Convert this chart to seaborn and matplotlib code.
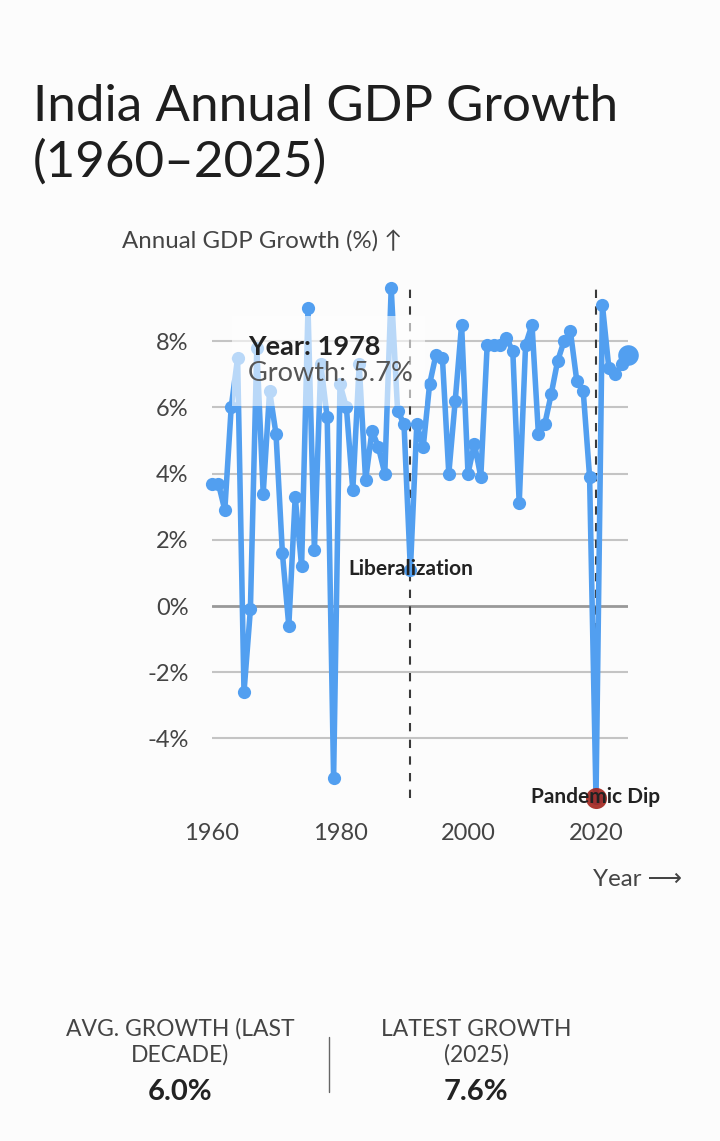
import seaborn as sns
import pandas as pd
from matplotlib import pyplot as plt
from matplotlib.lines import Line2D
from matplotlib.patches import Rectangle

# Data
years = list(range(1960, 2026))
growth = [3.7, 3.7, 2.9, 6.0, 7.5, -2.6, -0.1, 7.8, 3.4, 6.5,
          5.2, 1.6, -0.6, 3.3, 1.2, 9.0, 1.7, 7.3, 5.7, -5.2,
          6.7, 6.0, 3.5, 7.3, 3.8, 5.3, 4.8, 4.0, 9.6, 5.9,
          5.5, 1.1, 5.5, 4.8, 6.7, 7.6, 7.5, 4.0, 6.2, 8.5,
          4.0, 4.9, 3.9, 7.9, 7.9, 7.9, 8.1, 7.7, 3.1, 7.9,
          8.5, 5.2, 5.5, 6.4, 7.4, 8.0, 8.3, 6.8, 6.5, 3.9,
          -5.8, 9.1, 7.2, 7.0, 7.3, 7.6]
y_ticks = [-4, -2, 0, 2, 4, 6, 8]
x_ticks = [1960, 1980, 2000, 2020]
events = {1991: "Liberalization", 2020: "Pandemic Dip"}
tooltip_year = 1978
kpis = [("AVG. GROWTH (LAST\nDECADE)", "6.0%"), ("LATEST GROWTH\n(2025)", "7.6%")]

df = pd.DataFrame({'year': years, 'growth': growth})

sns.set_theme(style="white")
FONT = ['Lato', 'DejaVu Sans']
plt.rcParams['font.family'] = FONT

BG = '#fcfcfc'
BLUE = '#529ff0'
W, H = 720, 1141

fig = plt.figure(figsize=(W / 100, H / 100), dpi=100, facecolor=BG)
ax = fig.add_axes([212 / W, 1 - 798 / H, (628 - 212) / W, (798 - 285) / H])
ax.set_facecolor(BG)

# grid lines
for t in y_ticks:
    ax.axhline(t, color='#999999' if t == 0 else '#c4c4c4', lw=2 if t == 0 else 1.5, zorder=1)

# main line
sns.lineplot(data=df, x='year', y='growth', ax=ax, color=BLUE, lw=4,
             marker='o', markersize=9.5, markeredgewidth=0, zorder=3, clip_on=False)

# latest point a bit bigger
last = df.iloc[-1]
ax.scatter([last.year], [last.growth], s=220, color=BLUE, zorder=4, linewidths=0, clip_on=False)

# event lines
for yr, label in events.items():
    ax.axvline(yr, color='#3a3a3a', lw=1.5, ls=(0, (4, 4)), zorder=2)
g20 = df.loc[df.year == 2020, 'growth'].iloc[0]
ax.scatter([2020], [g20], s=230, color='#a4241c', alpha=0.9, zorder=6, linewidths=0, clip_on=False)
ax.text(1991, 1.12, events[1991], ha='center', va='center', fontsize=15,
        fontweight='bold', color='#222222', zorder=7)
ax.text(2020, -5.77, events[2020], ha='center', va='center', fontsize=15,
        fontweight='bold', color='#222222', zorder=7, clip_on=False)

# tooltip
ax.add_patch(Rectangle((1963.1, 6.04), 30.2, 2.72, facecolor='white', alpha=0.6,
                       edgecolor='none', zorder=5))
tv = df.loc[df.year == tooltip_year, 'growth'].iloc[0]
ax.text(1965.6, 7.82, f"Year: {tooltip_year}", fontsize=19.5, fontweight='bold',
        color='#222222', va='center', zorder=6)
ax.text(1965.6, 7.04, f"Growth: {tv}%", fontsize=19.5, color='#555555',
        va='center', zorder=6)

ax.set_xlim(1960, 2025)
ax.set_ylim(-5.8, 9.7)
ax.set_yticks(y_ticks)
ax.set_yticklabels([f"{t}%" for t in y_ticks])
ax.set_xticks(x_ticks)
ax.tick_params(axis='both', length=0, labelsize=17, labelcolor='#444444')
ax.tick_params(axis='y', pad=17)
ax.tick_params(axis='x', pad=18)
ax.set_xlabel('')
ax.set_ylabel('')
sns.despine(ax=ax, left=True, bottom=True)

# titles and axis labels
fig.text(33 / W, 1 - 84 / H, "India Annual GDP Growth\n(1960–2025)", fontsize=36.8,
         color='#1e1e1e', va='top', ha='left', linespacing=1.23)
fig.text(122 / W, 1 - 242 / H, "Annual GDP Growth (%) ↑", fontsize=17.3,
         color='#444444', va='center', ha='left')
fig.text(682 / W, 1 - 880 / H, "Year ⟶", fontsize=17.3, color='#444444',
         va='center', ha='right')

# KPI cards
for cx, (lab, val) in zip([180, 476], kpis):
    fig.text(cx / W, 1 - 1042 / H, lab, fontsize=16.5, color='#444444', ha='center',
             va='center', linespacing=1.25)
    fig.text(cx / W, 1 - 1092 / H, val, fontsize=21, fontweight='bold',
             color='#222222', ha='center', va='center')
fig.add_artist(Line2D([329 / W, 329 / W], [1 - 1037 / H, 1 - 1092 / H],
                      color='#666666', lw=1))

fig.savefig('out.png', dpi=100, facecolor=BG)
